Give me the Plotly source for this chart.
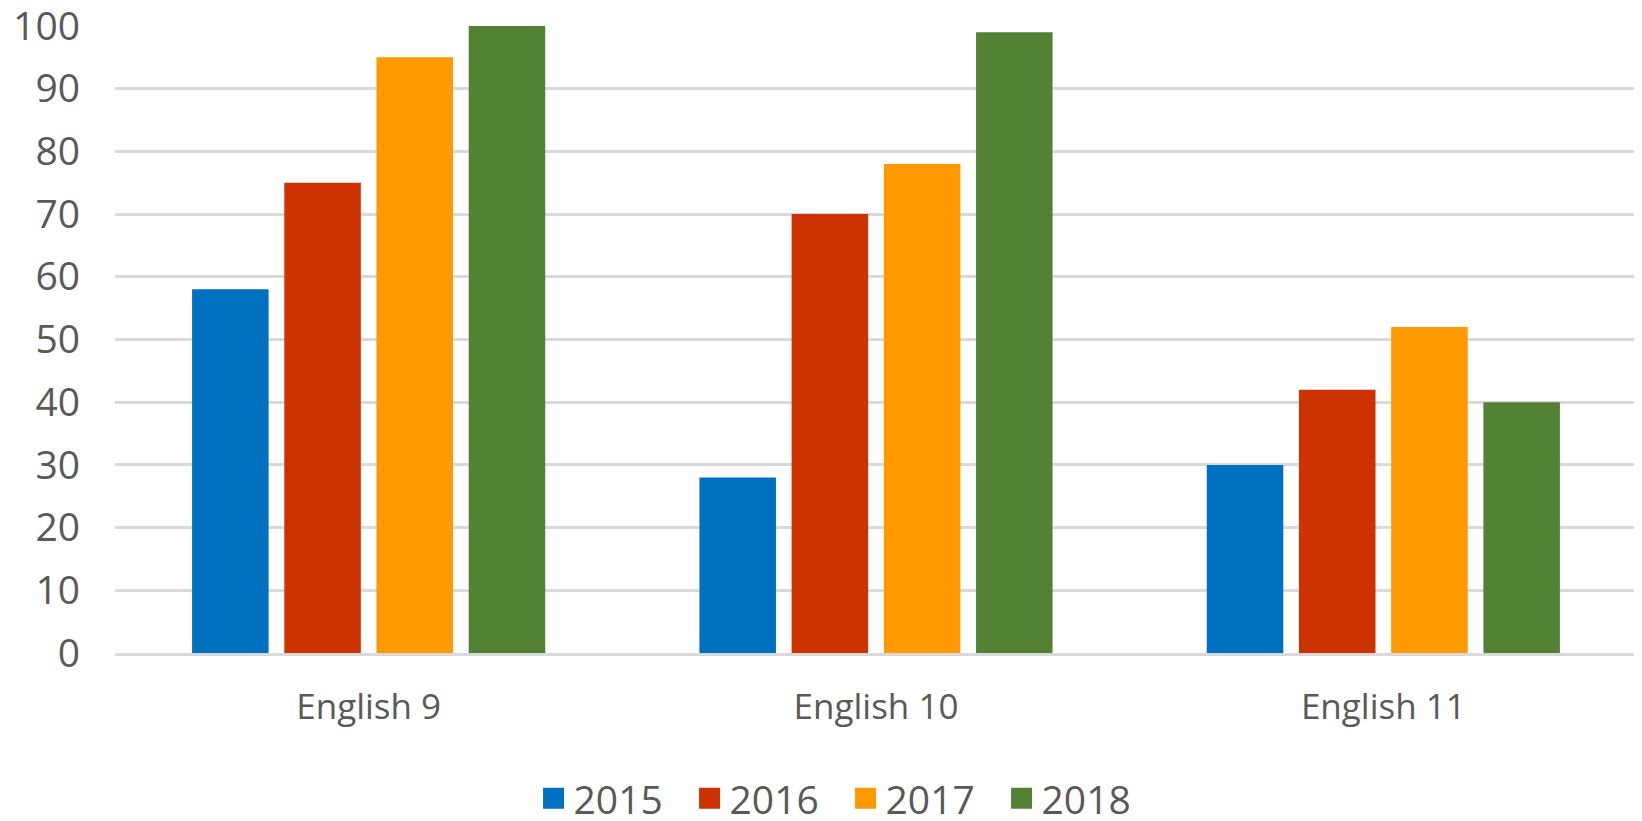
import plotly.graph_objects as go

categories = ["English 9", "English 10", "English 11"]
years = ["2015", "2016", "2017", "2018"]
v2015 = [58, 28, 30]
v2016 = [75, 70, 42]
v2017 = [95, 78, 52]
v2018 = [100, 99, 40]
colors = ["#0070C0", "#CC3300", "#FF9900", "#548235"]
yticks = [0, 10, 20, 30, 40, 50, 60, 70, 80, 90, 100]

series = [v2015, v2016, v2017, v2018]
fig = go.Figure()
for name, vals, c in zip(years, series, colors):
    fig.add_trace(go.Bar(x=categories, y=vals, name=name, showlegend=False,
                         marker=dict(color=c, line=dict(width=0))))
# legend entries with larger square swatches
for name, c in zip(years, colors):
    fig.add_trace(go.Scatter(x=[None], y=[None], mode="markers", name=name,
                             marker=dict(symbol="square", size=16, color=c,
                                         line=dict(color=c, width=5))))

font = "Open Sans"
# page body has an 8px margin; figure is sized/offset to compensate
fig.update_layout(
    width=1634, height=813,
    paper_bgcolor="white", plot_bgcolor="white",
    margin=dict(l=107, r=5, t=18, b=168, autoexpand=False),
    barmode="group", bargap=0.273, bargroupgap=0.17,
    font=dict(family=font, color="#595959", size=30),
    legend=dict(orientation="h", x=0.48, xanchor="center", y=-0.232, yanchor="middle",
                font=dict(size=39, color="#595959"), itemsizing="trace", traceorder="normal",
                itemwidth=30, entrywidth=111, entrywidthmode="pixels"),
    showlegend=True,
)
fig.update_yaxes(range=[0, 100], tickvals=yticks, showgrid=True, gridcolor="#d9d9d9", gridwidth=2.5,
                 zeroline=False, showline=False, ticks="", ticklabelstandoff=34, automargin=False,
                 ticklabeloverflow="allow", tickfont=dict(size=39, color="#595959"))
fig.update_xaxes(showline=True, linecolor="#d9d9d9", linewidth=2.5, ticks="", automargin=False,
                 ticklabelstandoff=21, ticklabeloverflow="allow", tickfont=dict(size=35, color="#595959"))
fig.write_html("out.html")
